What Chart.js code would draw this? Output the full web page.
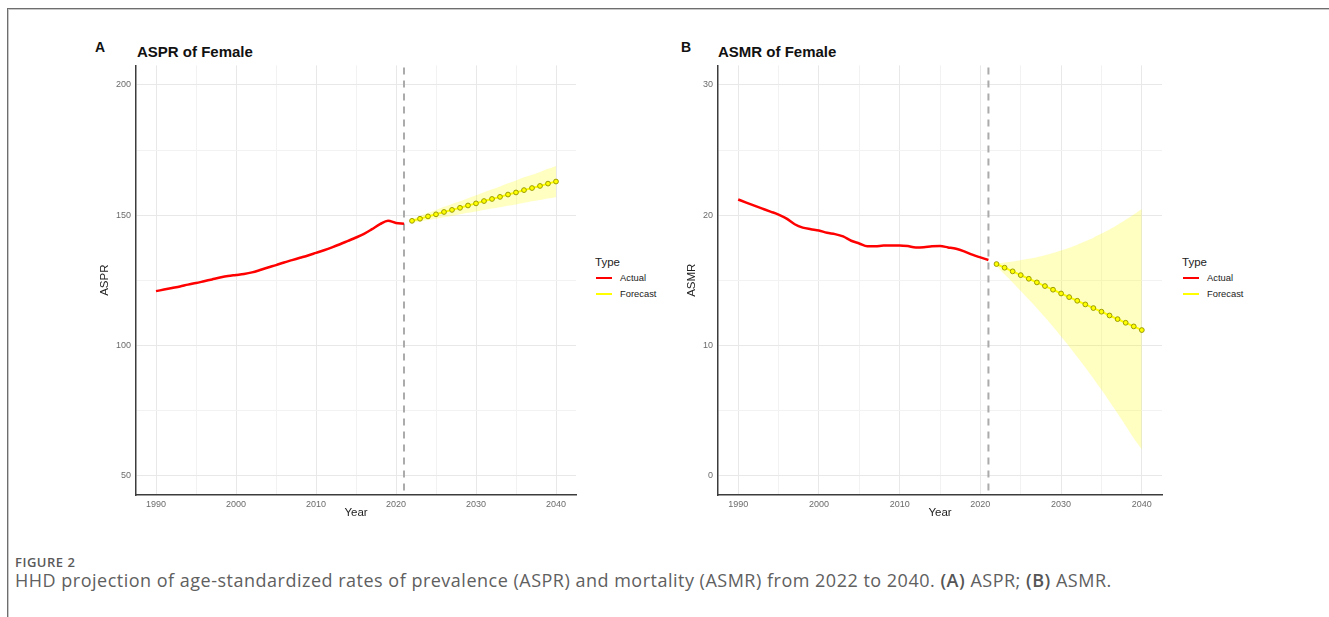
<!DOCTYPE html>
<html>
<head>
<meta charset="utf-8">
<script src="https://cdn.jsdelivr.net/npm/chart.js@4.4.1/dist/chart.umd.min.js"></script>
<style>
  html, body { margin:0; padding:0; background:#fff; }
  body { width:1329px; height:617px; overflow:hidden; position:relative; font-family:"Liberation Sans", Arial, sans-serif; }
  .frame { position:absolute; left:7px; top:8px; width:1330px; height:620px; border-top:1px solid #6e6e6e; border-left:1px solid #6e6e6e; box-shadow: inset 1px 1px 0 #c8c8c8; }
  .letter { position:absolute; font-weight:bold; font-size:14px; line-height:14px; color:#111; }
  .ptitle { position:absolute; font-weight:bold; font-size:15px; line-height:16px; color:#111; white-space:nowrap; }
  canvas { position:absolute; }
  .legend { position:absolute; color:#222; }
  .legend .ttl { position:absolute; left:0; top:0; font-size:11.5px; line-height:14px; white-space:nowrap; }
  .legend .item { position:absolute; left:0; height:12px; font-size:9.4px; line-height:12px; white-space:nowrap; }
  .legend .key { position:absolute; left:1px; top:5px; width:16px; height:2px; }
  .legend .lab { position:absolute; left:25px; top:0; }
  .caption { position:absolute; left:15px; font-family:"Open Sans", "Noto Sans", sans-serif; color:#5a5a5a; white-space:nowrap; }
  .cap1 { top:554px; font-size:13px; line-height:16px; font-weight:600; letter-spacing:0.5px; }
  .cap2 { top:569px; font-size:18px; line-height:22px; font-weight:400; letter-spacing:0.5px; color:#606060; }
  .cap2 b { font-weight:600; color:#555; }
</style>
</head>
<body>
<div class="frame"></div>

<div class="letter" style="left:95px; top:40px;">A</div>
<div class="ptitle" style="left:137px; top:44px;">ASPR of Female</div>
<div class="letter" style="left:681px; top:40px;">B</div>
<div class="ptitle" style="left:718px; top:44px;">ASMR of Female</div>

<canvas id="cA" width="496" height="470" style="left:94px; top:55px;"></canvas>
<canvas id="cB" width="496" height="470" style="left:681px; top:55px;"></canvas>

<div class="legend" style="left:595px; top:255px;">
  <div class="ttl">Type</div>
  <div class="item" style="top:17px;"><div class="key" style="background:#ff0000;"></div><div class="lab">Actual</div></div>
  <div class="item" style="top:33px;"><div class="key" style="background:#ffff00;"></div><div class="lab">Forecast</div></div>
</div>
<div class="legend" style="left:1182px; top:255px;">
  <div class="ttl">Type</div>
  <div class="item" style="top:17px;"><div class="key" style="background:#ff0000;"></div><div class="lab">Actual</div></div>
  <div class="item" style="top:33px;"><div class="key" style="background:#ffff00;"></div><div class="lab">Forecast</div></div>
</div>

<div class="caption cap1">FIGURE 2</div>
<div class="caption cap2">HHD projection of age-standardized rates of prevalence (ASPR) and mortality (ASMR) from 2022 to 2040. <b>(A)</b> ASPR; <b>(B)</b> ASMR.</div>

<script>
// ---------------- data ----------------
const actualYears = [1990,1991,1992,1993,1994,1995,1996,1997,1998,1999,2000,2001,2002,2003,2004,2005,
                     2006,2007,2008,2009,2010,2011,2012,2013,2014,2015,2016,2017,2018,2019,2020,2021];
const forecastYears = [2022,2023,2024,2025,2026,2027,2028,2029,2030,2031,2032,2033,2034,2035,2036,2037,2038,2039,2040];

const asprActual = [120.8,121.4,122.0,122.6,123.3,123.9,124.6,125.3,126.0,126.6,127.0,127.4,128.0,128.9,129.9,130.8,
                    131.8,132.7,133.6,134.5,135.5,136.5,137.6,138.8,140.1,141.4,142.8,144.6,146.5,147.8,147.0,146.7];
const asprForecast = [147.8,148.6,149.5,150.3,151.2,152.0,152.8,153.7,154.5,155.4,156.2,157.0,157.9,158.7,159.6,160.4,161.2,162.1,162.9];
const asprUpper = [148.6,149.7,150.9,152.0,153.2,154.3,155.3,156.5,157.6,158.8,159.9,161.0,162.2,163.3,164.5,165.5,166.6,167.8,168.9];
const asprLower = [147.0,147.5,148.1,148.6,149.2,149.7,150.3,150.9,151.4,152.0,152.5,153.0,153.6,154.1,154.7,155.3,155.8,156.4,156.9];

const asmrActual = [21.2,20.96,20.73,20.5,20.27,20.04,19.73,19.3,19.04,18.92,18.82,18.64,18.54,18.36,18.03,17.82,
                    17.6,17.6,17.67,17.67,17.67,17.62,17.52,17.54,17.6,17.62,17.52,17.41,17.21,16.96,16.75,16.55];
const asmrForecast = [16.24,15.96,15.68,15.39,15.11,14.83,14.55,14.27,13.98,13.70,13.42,13.14,12.86,12.58,12.29,12.01,11.73,11.45,11.17];
const asmrUpper = [16.30,16.36,16.44,16.53,16.64,16.77,16.92,17.09,17.28,17.49,17.73,17.99,18.27,18.58,18.90,19.26,19.64,20.04,20.47];
const asmrLower = [16.10,15.45,14.82,14.17,13.52,12.85,12.15,11.43,10.68,9.91,9.11,8.29,7.45,6.58,5.68,4.76,3.82,2.86,2.00];

const cutoffYear = 2021;

const xTickValues = [1990,2000,2010,2020,2030,2040];
const xTickLabels = ['1990','2000','2010','2020','2030','2040'];
const xMinorValues = [1995,2005,2015,2025,2035];

const asprTickValues = [50,100,150,200];
const asprTickLabels = ['50','100','150','200'];
const asprMinorValues = [75,125,175];

const asmrTickValues = [0,10,20,30];
const asmrTickLabels = ['0','10','20','30'];
const asmrMinorValues = [5,15,25];

// ---------------- drawing ----------------
const pts = (xs, ys) => xs.map((x, i) => ({x: x, y: ys[i]}));

const vlinePlugin = {
  id: 'vline',
  beforeDatasetsDraw(chart) {
    const {ctx, chartArea, scales} = chart;
    const px = scales.x.getPixelForValue(cutoffYear);
    ctx.save();
    ctx.strokeStyle = '#ababab';
    ctx.lineWidth = 2;
    ctx.setLineDash([7, 6]);
    ctx.beginPath();
    ctx.moveTo(px, chartArea.top + 2);
    ctx.lineTo(px, chartArea.bottom);
    ctx.stroke();
    ctx.restore();
  }
};

function makePanel(id, actual, fc, up, lo, yMin, yMax, yTicks, yLabels, yMinor, yTitle, yAxisWidth, rightPad) {
  const ctx = document.getElementById(id).getContext('2d');
  const xAll = xTickValues.concat(xMinorValues).sort((a,b)=>a-b);
  const yAll = yTicks.concat(yMinor).sort((a,b)=>a-b);
  return new Chart(ctx, {
    type: 'line',
    data: {
      datasets: [
        { label: 'Actual', data: pts(actualYears, actual), borderColor: '#ff0000', borderWidth: 2.5,
          pointRadius: 0, fill: false, tension: 0.3, cubicInterpolationMode: 'monotone' },
        { label: 'Forecast', data: pts(forecastYears, fc), borderColor: '#ffff00', borderWidth: 2,
          pointRadius: 2.4, pointBackgroundColor: '#ffff00', pointBorderColor: '#9c9c00', pointBorderWidth: 1, fill: false },
        { label: 'Upper', data: pts(forecastYears, up), borderWidth: 0, borderColor: 'rgba(0,0,0,0)',
          pointRadius: 0, fill: false, tension: 0.3 },
        { label: 'Lower', data: pts(forecastYears, lo), borderWidth: 0, borderColor: 'rgba(0,0,0,0)',
          pointRadius: 0, fill: '-1', backgroundColor: 'rgba(255,255,0,0.24)', tension: 0.3 }
      ]
    },
    options: {
      responsive: false,
      animation: false,
      devicePixelRatio: 1,
      events: [],
      layout: { padding: { left: 0, right: rightPad, top: 8, bottom: 0 } },
      plugins: { legend: { display: false }, tooltip: { enabled: false }, title: { display: false } },
      scales: {
        x: {
          type: 'linear', min: 1987.5, max: 2042.5,
          afterBuildTicks: s => { s.ticks = xAll.map(v => ({value: v})); },
          afterFit: s => { s.height = 30; },
          ticks: {
            autoSkip: false, maxRotation: 0, padding: 4, color: '#6b6b6b',
            font: { family: '"Liberation Sans", Arial, sans-serif', size: 9 },
            callback: v => { const i = xTickValues.indexOf(v); return i >= 0 ? xTickLabels[i] : ''; }
          },
          grid: { drawTicks: false, color: c => xTickValues.includes(c.tick && c.tick.value) ? '#e8e8e8' : '#f2f2f2', lineWidth: 1 },
          border: { display: true, color: '#3c3c3c', width: 1.5 },
          title: { display: true, text: 'Year', color: '#222', font: { family: '"Liberation Sans", Arial, sans-serif', size: 11.5 },
                   padding: { top: 0, bottom: 5 } }
        },
        y: {
          type: 'linear', min: yMin, max: yMax,
          afterBuildTicks: s => { s.ticks = yAll.map(v => ({value: v})); },
          afterFit: s => { s.width = yAxisWidth; },
          ticks: {
            autoSkip: false, padding: 5, color: '#6b6b6b',
            font: { family: '"Liberation Sans", Arial, sans-serif', size: 9 },
            callback: v => { const i = yTicks.indexOf(v); return i >= 0 ? yLabels[i] : ''; }
          },
          grid: { drawTicks: false, color: c => yTicks.includes(c.tick && c.tick.value) ? '#e8e8e8' : '#f2f2f2', lineWidth: 1 },
          border: { display: true, color: '#3c3c3c', width: 1.5 },
          title: { display: true, text: yTitle, color: '#222', font: { family: '"Liberation Sans", Arial, sans-serif', size: 11.5 },
                   padding: { top: 4, bottom: 0 } }
        }
      }
    },
    plugins: [vlinePlugin]
  });
}

makePanel('cA', asprActual, asprForecast, asprUpper, asprLower, 42.5, 207.5,
          asprTickValues, asprTickLabels, asprMinorValues, 'ASPR', 42, 14);
makePanel('cB', asmrActual, asmrForecast, asmrUpper, asmrLower, -1.5, 31.5,
          asmrTickValues, asmrTickLabels, asmrMinorValues, 'ASMR', 37, 15);
</script>
</body>
</html>
